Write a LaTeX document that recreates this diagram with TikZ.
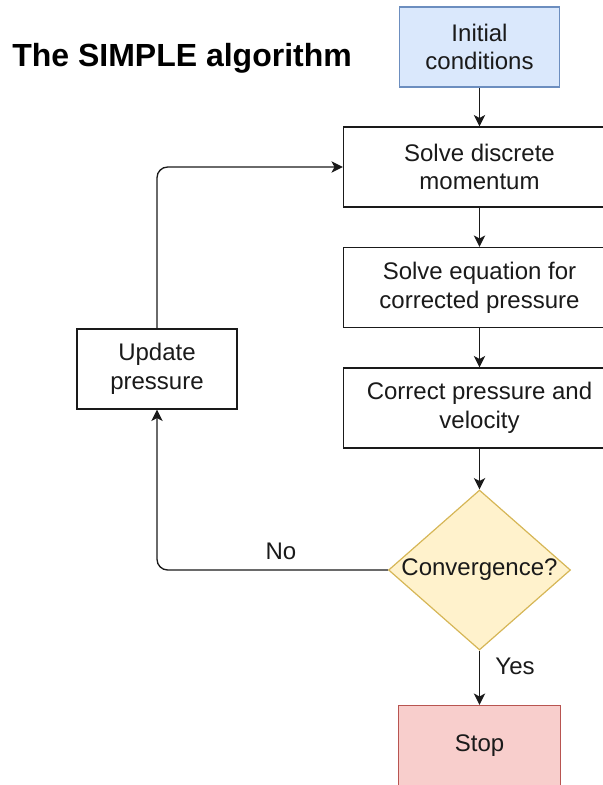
\documentclass[tikz,border=0pt]{standalone}
\usepackage{fontspec}
\setmainfont{Liberation Sans}
\usetikzlibrary{shapes.geometric,arrows.meta}
\definecolor{blueF}{HTML}{DAE8FC}
\definecolor{blueD}{HTML}{6C8EBF}
\definecolor{yelF}{HTML}{FFF2CC}
\definecolor{yelD}{HTML}{D6B656}
\definecolor{redF}{HTML}{F8CECC}
\definecolor{redD}{HTML}{B85450}
\definecolor{ink}{HTML}{1A1A1A}
\tikzset{
  box/.style={draw=ink, line width=1pt, fill=white, rectangle, inner sep=0pt,
    minimum height=60pt, align=center, text=ink,
    font=\fontsize{18}{21.6}\selectfont},
  dia/.style={draw=yelD, fill=yelF, line width=0.9pt, diamond, inner sep=0pt,
    minimum width=136.5pt, minimum height=120pt},
  txt/.style={text=ink, font=\fontsize{18}{21.6}\selectfont, inner sep=0pt, align=center},
  conn/.style={draw=ink, line width=1pt, -{Stealth[length=8.5pt,width=8.5pt,inset=2.2pt]}},
}
\begin{document}
\begin{tikzpicture}[x=0.75pt,y=-0.75pt]
\useasboundingbox (0,0) rectangle (603,785);
\clip (0,0) rectangle (603,785);
\node[anchor=base west, text=black, inner sep=0pt, font=\fontsize{24}{28}\selectfont\bfseries] (title) at (12,66) {The SIMPLE algorithm};
\node[box, minimum width=120pt, fill=blueF, draw=blueD] (init) at (479.5,47) {Initial\\conditions};
\node[box, minimum width=204pt] (mom) at (479.5,167) {Solve discrete\\momentum};
\node[box, minimum width=204pt] (peq) at (479.5,287.5) {Solve equation for\\corrected pressure};
\node[box, minimum width=204pt] (corr) at (479.5,408) {Correct pressure and\\velocity};
\node[dia] (conv) at (479.5,570) {};
\node[txt] (convt) at (conv.center) {Convergence?};
\node[box, minimum width=121.5pt, fill=redF, draw=redD] (stop) at (479.5,745.5) {Stop};
\node[box, minimum width=120pt] (upd) at (157,369) {Update\\pressure};
\coordinate (c1) at (157,570);
\coordinate (c2) at (157,167);
\draw[conn] (init.south) -- (mom.north);
\draw[conn] (mom) -- (peq);
\draw[conn] (peq) -- (corr);
\draw[conn] (corr.south) -- (conv.north);
\draw[conn] (conv.south) -- (stop.north);
\draw[conn, rounded corners=8pt] (conv.west) -- (c1) -- (upd.south);
\draw[conn, rounded corners=8pt] (upd.north) -- (c2) -- (mom.west);
\node[txt] (no) at (281,551) {No};
\node[txt] (yes) at (515,666) {Yes};
\end{tikzpicture}
\end{document}
